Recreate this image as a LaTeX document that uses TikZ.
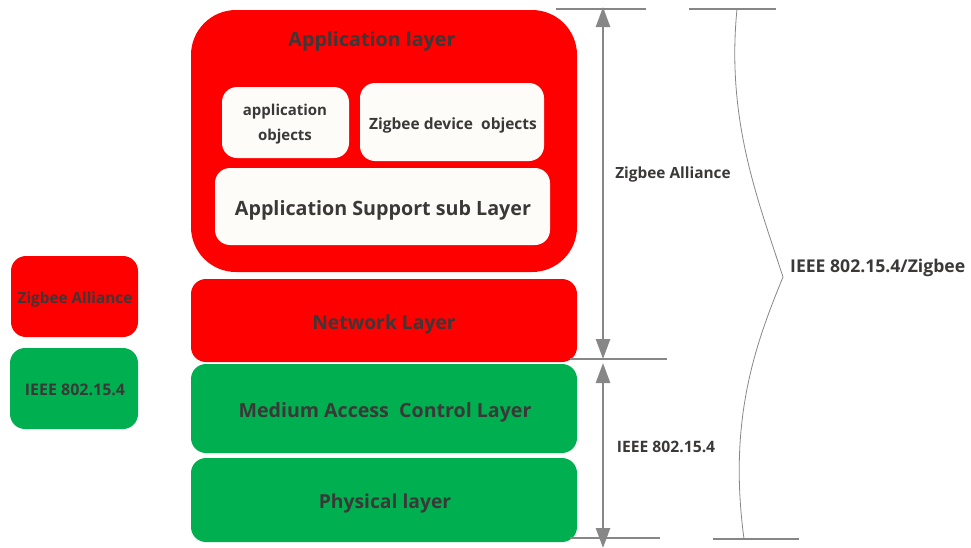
\documentclass[tikz,border=0pt]{standalone}
\usepackage{fontspec}
\setmainfont{Open Sans}
\usetikzlibrary{arrows.meta}
\definecolor{zred}{HTML}{FF0000}
\definecolor{zgreen}{HTML}{00B050}
\definecolor{zwhite}{HTML}{FEFCF8}
\definecolor{ztext}{HTML}{3B3838}
\definecolor{zline}{HTML}{878787}
\tikzset{
  layerbox/.style={rounded corners=15pt, inner sep=0pt, draw=none},
  redbox/.style={layerbox, fill=zred},
  greenbox/.style={layerbox, fill=zgreen},
  whitebox/.style={layerbox, fill=zwhite},
  lbl/.style={text=ztext, font=\bfseries, inner sep=0pt, align=center},
  guide/.style={draw=zline, line width=1.2pt},
  dim/.style={draw=zline, line width=2.6pt, {Triangle[length=20pt,width=14pt]}-{Triangle[length=20pt,width=14pt]}},
  bracel/.style={draw=zline, line width=0.8pt}
}
\begin{document}
\begin{tikzpicture}[x=1pt,y=-1pt]
\useasboundingbox (0,0) rectangle (971,547);
% main stack
\node[redbox, rounded corners=45pt, minimum width=386pt, minimum height=262pt] (app) at (384,141) {};
\node[lbl, font=\bfseries\fontsize{19.7}{22}\selectfont] (applbl) at (372,41) {Application layer};
\node[whitebox, minimum width=127pt, minimum height=71pt] (ao) at (285.5,122.5) {};
\node[lbl, font=\bfseries\fontsize{15}{25}\selectfont] (aolbl) at (285,124) {application\\objects};
\node[whitebox, minimum width=184pt, minimum height=78pt] (zdo) at (452,122) {};
\node[lbl, font=\bfseries\fontsize{15.5}{17}\selectfont] (zdolbl) at (453,125) {Zigbee device\ \ objects};
\node[whitebox, minimum width=335pt, minimum height=77pt] (aps) at (382.5,206.5) {};
\node[lbl, font=\bfseries\fontsize{19.7}{22}\selectfont] (apslbl) at (383,210) {Application Support sub Layer};
\node[redbox, minimum width=386pt, minimum height=83pt] (nwk) at (384,320.5) {};
\node[lbl, font=\bfseries\fontsize{19.3}{22}\selectfont] (nwklbl) at (384,324) {Network Layer};
\node[greenbox, minimum width=386pt, minimum height=89pt] (mac) at (384,408.5) {};
\node[lbl, font=\bfseries\fontsize{19.6}{22}\selectfont] (maclbl) at (385,412) {Medium Access\ \ Control Layer};
\node[greenbox, minimum width=386pt, minimum height=84pt] (phy) at (384,500) {};
\node[lbl, font=\bfseries\fontsize{19.3}{22}\selectfont] (phylbl) at (385,503) {Physical layer};
% legend
\node[redbox, minimum width=127pt, minimum height=81pt] (legr) at (74.5,296.5) {};
\node[lbl, font=\bfseries\fontsize{15.3}{17}\selectfont] (legrlbl) at (75,300) {Zigbee Alliance};
\node[greenbox, minimum width=128pt, minimum height=81pt] (legg) at (74,388.5) {};
\node[lbl, font=\bfseries\fontsize{16}{18}\selectfont] (legglbl) at (75,390) {IEEE 802.15.4};
% guide lines
\coordinate (g1a) at (556,9); \coordinate (g1b) at (646,9);
\coordinate (g2a) at (570,359); \coordinate (g2b) at (667,359);
\coordinate (g3a) at (570,538); \coordinate (g3b) at (660,538);
\coordinate (b1a) at (689,9); \coordinate (b1b) at (776,9);
\coordinate (b2a) at (713,539); \coordinate (b2b) at (799,539);
\draw[guide] (g1a) -- (g1b);
\draw[guide] (g2a) -- (g2b);
\draw[guide] (g3a) -- (g3b);
\draw[guide] (b1a) -- (b1b);
\draw[guide] (b2a) -- (b2b);
% dimension arrows
\coordinate (d1t) at (603,7); \coordinate (d1b) at (603,359);
\coordinate (d2t) at (603,363); \coordinate (d2b) at (603,548);
\draw[dim] (d1t) -- (d1b);
\draw[dim] (d2t) -- (d2b);
\node[lbl, font=\bfseries\fontsize{15.4}{17}\selectfont] (zalbl) at (673,174) {Zigbee Alliance};
\node[lbl, font=\bfseries\fontsize{15.7}{18}\selectfont] (ieeelbl) at (666,447) {IEEE 802.15.4};
% brace
\coordinate (bt) at (737,9); \coordinate (btip) at (783,277); \coordinate (bb) at (744,539);
\draw[bracel] (bt) .. controls (726,120) and (758,200) .. (btip)
  .. controls (755,345) and (728,420) .. (bb);
\node[lbl, font=\bfseries\fontsize{17.6}{20}\selectfont, anchor=west] (totlbl) at (790,268) {IEEE 802.15.4/Zigbee};
\end{tikzpicture}
\end{document}
